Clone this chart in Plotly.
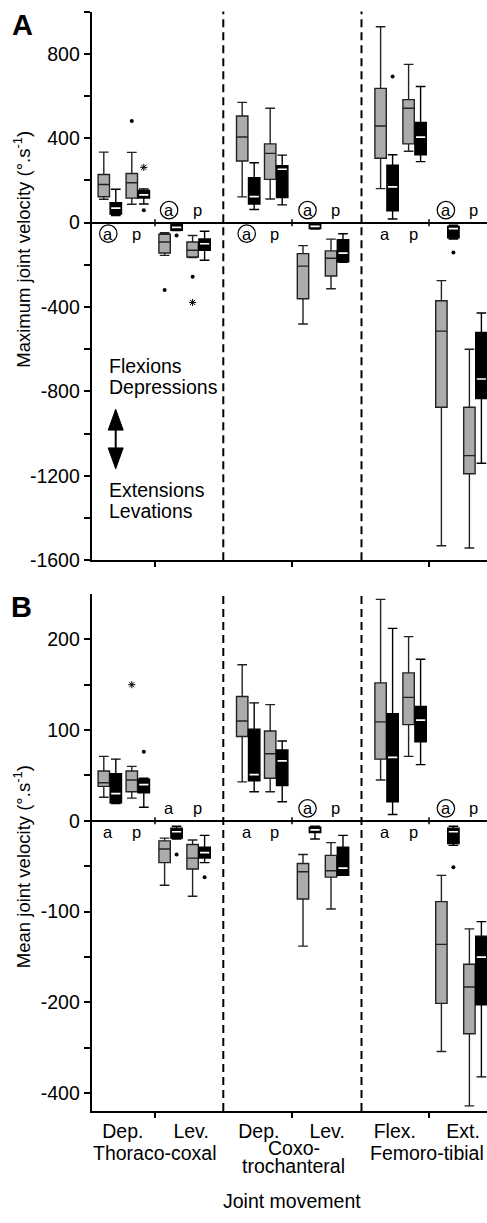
import plotly.graph_objects as go

# ---------------- data ----------------
movements = ["Dep.", "Lev.", "Dep.", "Lev.", "Flex.", "Ext."]
joints = ["Thoraco-coxal", "Coxo-trochanteral", "Femoro-tibial"]
states = ["a", "p"]
# order of every list below: Dep.a, Dep.p, Lev.a, Lev.p (TC), Dep.a ... (CT), Flex.a ... Ext.p (FT)

# Panel A – maximum joint velocity (deg/s)
A_grey_low = [111, 87, -155, -165, 122, 112, -480, -313, 161, 338, -1531, -1542]
A_grey_q1 = [123, 116, -144, -163, 292, 205, -361, -253, 305, 373, -875, -1190]
A_grey_med = [181, 189, -92, -131, 406, 328, -206, -169, 458, 542, -514, -1104]
A_grey_q3 = [228, 233, -55, -92, 505, 373, -147, -134, 636, 583, -370, -875]
A_grey_high = [334, 333, -48, -61, 570, 542, -109, -78, 928, 750, -275, -600]

A_black_low = [34, 88, -38, -178, 62, 84, -30, -188, 17, 289, -78, -1140]
A_black_q1 = [41, 117, -36, -131, 88, 119, -28, -186, 56, 322, -72, -833]
A_black_med = [69, 132, -22, -100, 123, 253, -18, -144, 169, 405, -28, -741]
A_black_q3 = [95, 152, -8, -77, 213, 270, -8, -81, 272, 475, -18, -520]
A_black_high = [158, 160, -3, -41, 284, 320, -4, -53, 322, 645, -12, -428]

A_dot_box = [1, 1, 2, 2, 3, 8, 10]          # box index
A_dot_series = [0, 1, 0, 1, 0, 1, 1]        # 0 grey, 1 black
A_dot_value = [482, 59, -319, -61, -256, 692, -141]
A_star_box = [1, 3]
A_star_series = [1, 0]
A_star_value = [262, -378]

# Panel B – mean joint velocity (deg/s)
B_grey_low = [26, 25, -71, -83, 43, 32, -138, -97, 45, 71, -308, -428]
B_grey_q1 = [38, 32, -46, -53, 93, 47, -86, -62, 68, 106, -202, -269]
B_grey_med = [42, 45, -31, -41, 110, 74, -56, -55, 109, 136, -136, -183]
B_grey_q3 = [55, 55, -22, -26, 137, 99, -47, -38, 152, 163, -89, -158]
B_grey_high = [71, 60, -19, -21, 172, 128, -37, -24, 244, 203, -60, -119]

B_black_low = [19, 15, -20, -46, 32, 21, -20, -60, 7, 62, -27, -364]
B_black_q1 = [20, 31, -19, -41, 44, 39, -13, -60, 21, 87, -25, -205]
B_black_med = [30, 40, -12, -35, 51, 66, -10, -52, 70, 111, -12, -150]
B_black_q3 = [52, 46, -8, -29, 101, 78, -7, -29, 118, 126, -8, -127]
B_black_high = [68, 47, -6, -16, 130, 88, -6, -16, 212, 178, -6, -111]

B_dot_box = [1, 2, 3, 10]
B_dot_series = [1, 1, 1, 1]
B_dot_value = [76, -37, -62, -51]
B_star_box = [1]
B_star_series = [0]
B_star_value = [150]

# significance labels per movement: side (+1 above zero, -1 below), circled 'a'
A_label_side = [-1, 1, -1, 1, -1, 1]
A_label_circ = [True, True, True, True, False, True]
B_label_side = [-1, 1, -1, 1, -1, 1]
B_label_circ = [False, False, False, True, False, True]

A_ticks = [800, 400, 0, -400, -800, -1200, -1600]
B_ticks = [200, 100, 0, -100, -200, -400]
B_minor = [150, 50, -50, -150, -300]

# ---------------- layout constants ----------------
W, H = 487, 1223
FONT = "Liberation Sans, Arial, sans-serif"
FS = 19.5
GREY = "#ababab"
X_LEFT, X_RIGHT = 91.7, 487.0
X0, JOINT_STEP, MOVE_STEP, STATE_STEP, PAIR_STEP = 103.8, 138.4, 60.8, 28.0, 12.0
BOX_W = 11.4
A_TOP, A_BOT = 11.7, 565.4
B_TOP, B_BOT = 599.3, 1121.0
B_RANGE_REAL = (-439, 250)


def tB(v):
    return v if v >= -200 else -200 + (v + 200) / 2.0


def ident(v):
    return v


def pos(k, c):
    g = k // 2
    s = k % 2
    j, m = g // 2, g % 2
    return X0 + j * JOINT_STEP + m * MOVE_STEP + s * STATE_STEP + c * PAIR_STEP


def py(p):
    return 1 - p / H


boundaries = [X0 + 51.2 + j * 137.0 for j in range(3)]
dashes = [X0 + 119.5 + j * 138.2 for j in range(2)]
label_centers = [X0 + 19 + j * 136 + m * 68.3 for j in range(3) for m in range(2)]
joint_centers = [X0 + 51.2 + j * 136.5 for j in range(3)]

fig = go.Figure()


def add_panel(xa, ya, stats, dots, stars, tf):
    for c, (st, fill, lc) in enumerate(zip(stats, [GREY, "black"], ["#222222", "black"])):
        lo, q1, med, q3, hi = [[tf(v) for v in s] for s in st]
        xs = [pos(k, c) for k in range(len(lo))]
        fig.add_trace(go.Box(
            x=xs, lowerfence=lo, q1=q1, median=med, q3=q3, upperfence=hi,
            width=BOX_W, whiskerwidth=0.85, fillcolor=fill,
            line=dict(color=lc, width=1.4), boxpoints=False,
            hoverinfo="skip", showlegend=False, xaxis=xa, yaxis=ya))
        if c == 1:
            fig.add_trace(go.Scatter(
                x=xs, y=med, mode="markers", xaxis=xa, yaxis=ya,
                marker=dict(symbol="line-ew", size=6.6, color="white",
                            line=dict(color="white", width=1.7)),
                hoverinfo="skip", showlegend=False))
    bx, bs, bv = dots
    fig.add_trace(go.Scatter(
        x=[pos(k, c) for k, c in zip(bx, bs)], y=[tf(v) for v in bv],
        mode="markers", marker=dict(symbol="circle", size=4, color="black"),
        xaxis=xa, yaxis=ya, hoverinfo="skip", showlegend=False))
    sx, ss, sv = stars
    fig.add_trace(go.Scatter(
        x=[pos(k, c) for k, c in zip(sx, ss)], y=[tf(v) for v in sv],
        mode="markers", marker=dict(symbol="asterisk-open", size=6, color="black",
                                    line=dict(color="black", width=1)),
        xaxis=xa, yaxis=ya, hoverinfo="skip", showlegend=False))


add_panel("x", "y",
          [(A_grey_low, A_grey_q1, A_grey_med, A_grey_q3, A_grey_high),
           (A_black_low, A_black_q1, A_black_med, A_black_q3, A_black_high)],
          (A_dot_box, A_dot_series, A_dot_value),
          (A_star_box, A_star_series, A_star_value), ident)
add_panel("x2", "y2",
          [(B_grey_low, B_grey_q1, B_grey_med, B_grey_q3, B_grey_high),
           (B_black_low, B_black_q1, B_black_med, B_black_q3, B_black_high)],
          (B_dot_box, B_dot_series, B_dot_value),
          (B_star_box, B_star_series, B_star_value), tB)

shapes = []
annotations = []


def sig_labels(xr, yr, sides, circ):
    for g in range(6):
        for s, lab in enumerate(states):
            k = 2 * g + s
            xc = (pos(k, 0) + pos(k, 1)) / 2 - 1.5
            shift = 12.5 if sides[g] > 0 else -11
            annotations.append(dict(x=xc, y=0, xref=xr, yref=yr, text=lab,
                                    showarrow=False, yshift=shift,
                                    font=dict(size=16.5, family=FONT, color="black")))
            if lab == "a" and circ[g]:
                shapes.append(dict(type="circle", xref=xr, yref=yr,
                                   xsizemode="pixel", ysizemode="pixel",
                                   xanchor=xc, yanchor=0,
                                   x0=-8.7, x1=8.7, y0=shift - 8.7, y1=shift + 8.7,
                                   line=dict(color="black", width=1.2)))


sig_labels("x", "y", A_label_side, A_label_circ)
sig_labels("x2", "y2", B_label_side, B_label_circ)

for xr, yr, top, bot in [("x", "y", A_TOP, A_BOT), ("x2", "y2", B_TOP, B_BOT)]:
    for d in dashes:
        shapes.append(dict(type="line", xref=xr, yref="paper", x0=d, x1=d,
                           y0=py(bot), y1=py(top),
                           line=dict(color="black", width=2, dash="8px,5px")))
    for b in boundaries:
        shapes.append(dict(type="line", xref=xr, yref=yr, ysizemode="pixel",
                           yanchor=0, x0=b, x1=b, y0=-3.5, y1=3.5,
                           line=dict(color="black", width=1.5)))

# double arrow (Flexions / Extensions)
AX = 115.7
shapes.append(dict(type="line", xref="paper", yref="paper", x0=AX / W, x1=AX / W,
                   y0=py(430), y1=py(456), line=dict(color="black", width=2)))
shapes.append(dict(type="path", xref="paper", yref="paper", fillcolor="black",
                   line=dict(color="black", width=1),
                   path="M {0},{1} L {2},{3} L {4},{3} Z".format(
                       AX / W, py(413), (AX - 7.5) / W, py(434), (AX + 7.5) / W)))
shapes.append(dict(type="path", xref="paper", yref="paper", fillcolor="black",
                   line=dict(color="black", width=1),
                   path="M {0},{1} L {2},{3} L {4},{3} Z".format(
                       AX / W, py(473), (AX - 7.5) / W, py(452), (AX + 7.5) / W)))


def txt(t, xpx, ypx, size=FS, xanchor="center", angle=0, bold=False):
    annotations.append(dict(text="<b>%s</b>" % t if bold else t, x=xpx / W, y=py(ypx),
                            xref="paper", yref="paper", showarrow=False,
                            xanchor=xanchor, yanchor="middle", textangle=angle,
                            font=dict(size=size, family=FONT, color="black")))


txt("Flexions", 107.3, 369.5, xanchor="left")
txt("Depressions", 107.3, 391, xanchor="left")
txt("Extensions", 107.3, 494, xanchor="left")
txt("Levations", 107.3, 516, xanchor="left")
txt("A", 22.5, 25, size=29, bold=True)
txt("B", 21.7, 613, size=29, bold=True)
txt("Maximum joint velocity (°.s<sup>-1</sup>)", 22, 252, size=18.5, angle=-90)
txt("Mean joint velocity (°.s<sup>-1</sup>)", 22, 875, size=18.5, angle=-90)
txt(joints[0], joint_centers[0], 1163.5)
txt("Coxo-", joint_centers[1] + 2, 1158.5)
txt("trochanteral", joint_centers[1] + 2, 1177)
txt(joints[2], joint_centers[2] - 1, 1163.5)
txt("Joint movement", 291.7, 1212.3)

axis_common = dict(showgrid=False, showline=True, linecolor="black", linewidth=2,
                   tickfont=dict(size=FS, family=FONT, color="black"),
                   tickcolor="black", tickwidth=1.5)

fig.update_layout(
    width=W, height=H, margin=dict(l=0, r=0, t=0, b=0),
    paper_bgcolor="white", plot_bgcolor="white", boxmode="overlay",
    showlegend=False, shapes=shapes, annotations=annotations,
    xaxis=dict(domain=[X_LEFT / W, 1], range=[X_LEFT, X_RIGHT], anchor="y",
               tickmode="array", tickvals=boundaries, ticks="outside", ticklen=5,
               showticklabels=False, zeroline=False, **axis_common),
    xaxis2=dict(domain=[X_LEFT / W, 1], range=[X_LEFT, X_RIGHT], anchor="y2",
                tickmode="array", tickvals=label_centers, ticktext=movements,
                ticks="", zeroline=False, ticklabelstandoff=2,
                minor=dict(tickmode="array", tickvals=boundaries, ticks="outside",
                           ticklen=5, tickwidth=1.5, tickcolor="black"),
                **axis_common),
    yaxis=dict(domain=[py(A_BOT), py(A_TOP)], range=[-1600, 1000], anchor="x",
               tickmode="array", tickvals=A_ticks, ticktext=[str(v) for v in A_ticks],
               ticks="outside", ticklen=6,
               minor=dict(tickmode="linear", tick0=0, dtick=200, ticks="outside",
                          ticklen=6, tickwidth=1.5, tickcolor="black"),
               zeroline=True, zerolinecolor="black", zerolinewidth=2, **axis_common),
    yaxis2=dict(domain=[py(B_BOT), py(B_TOP)],
                range=[tB(B_RANGE_REAL[0]), tB(B_RANGE_REAL[1])], anchor="x2",
                tickmode="array", tickvals=[tB(v) for v in B_ticks],
                ticktext=[str(v) for v in B_ticks], ticks="outside", ticklen=6,
                minor=dict(tickmode="array", tickvals=[tB(v) for v in B_minor],
                           ticks="outside", ticklen=6, tickwidth=1.5, tickcolor="black"),
                zeroline=True, zerolinecolor="black", zerolinewidth=2, **axis_common),
)

fig.write_html("out.html", config={"displayModeBar": False},
               post_script="document.body.style.margin='0';document.body.style.overflow='hidden';")
